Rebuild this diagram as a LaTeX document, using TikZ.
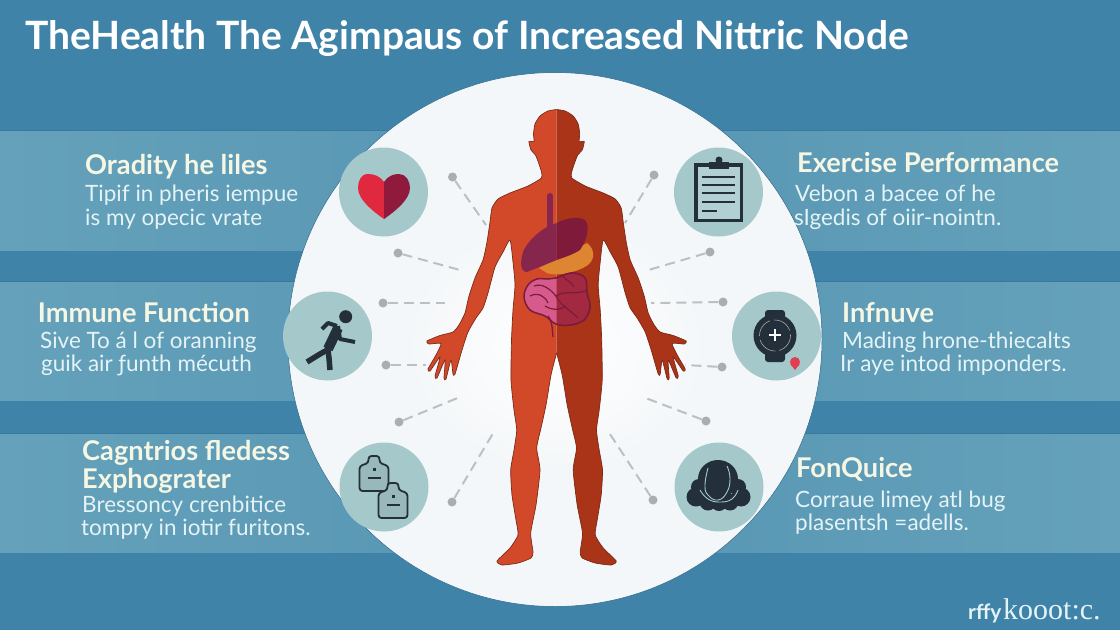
\documentclass[tikz,border=0pt]{standalone}
\usepackage{fontspec}
\setmainfont{Lato}
\newfontfamily\markfont{Liberation Serif}
\definecolor{seablue}{HTML}{3F83A9}
\definecolor{seadark}{HTML}{38799F}
\definecolor{bandmid}{HTML}{5595B3}
\definecolor{bandedge}{HTML}{65A1BA}
\definecolor{paper}{HTML}{F4F7F9}
\definecolor{discteal}{HTML}{A5C8CB}
\definecolor{inkdark}{HTML}{232F3A}
\definecolor{headcream}{HTML}{F5F6E4}
\definecolor{bodypale}{HTML}{E4F3F5}
\definecolor{skinleft}{HTML}{D2492A}
\definecolor{skinright}{HTML}{A93418}
\definecolor{skinline}{HTML}{7C2A16}
\definecolor{liverleft}{HTML}{86264C}
\definecolor{liverright}{HTML}{7F1A3B}
\definecolor{gutorange}{HTML}{DD8530}
\definecolor{gutpink}{HTML}{D75A8C}
\definecolor{gutdark}{HTML}{A2293F}
\definecolor{gutline}{HTML}{7A1C3C}
\definecolor{spotgray}{HTML}{A9AEB0}
\definecolor{dashgray}{HTML}{BAC0C3}
\definecolor{heartleft}{HTML}{E0283F}
\definecolor{heartright}{HTML}{8F1A3C}
\tikzset{
    band/.style={left color=bandedge,right color=bandedge,middle color=bandmid},
    iconback/.style={circle,fill=discteal,minimum size=89pt,inner sep=0pt},
    spot/.style={circle,fill=spotgray,minimum size=9pt,inner sep=0pt},
    link/.style={dashgray,line width=2pt,dash pattern=on 10pt off 6pt},
    headtext/.style={anchor=base west,inner sep=0pt,text=headcream,font=\bfseries\fontsize{27.2}{30}\selectfont},
    bodytext/.style={anchor=base west,inner sep=0pt,text=bodypale,font=\fontsize{22.5}{24}\selectfont},
    flaskline/.style={draw=inkdark,line width=1.8pt,fill=discteal!92!black,rounded corners=3pt},
}
\newcommand{\bodyside}{plot[smooth,tension=.35] coordinates {(556.6,109.5) (548,111) (540,116) (535,124) (533.5,134) (534,141.5) (529,141.5) (531,150) (535.5,155) (539,164) (541.5,172) (541.5,178) (528,186) (510,193) (498,199) (492,208) (490,222) (487,242) (483,260) (475,278) (469,296) (465,313) (459,325) (453,332) (440,335.5) (427,341) (429,344) (441,343.5) (436,355) (428,369) (430,371) (440,357) (435,376) (437,378) (445,360) (444,378) (446,379) (451,360) (453,374) (455,374) (462,350) (468,332) (476,318) (483,308) (488,293) (495,267) (503,252) (510,240) (513,262) (515,285) (513,310) (511.5,340) (511,380) (514,410) (516.7,430) (514,450) (510.7,470) (512,495) (516,520) (518,535) (510,548) (497,561) (502,565) (518,563) (531,558) (533,552) (530.7,533) (536,505) (540,470) (536.7,448) (541,428) (546,405) (551,375) (556.6,353)}}
\newcommand{\flaskicon}[2]{%
    \begin{scope}[shift={(#1,#2)}]
        \draw[flaskline] (0,24) -- (0,11) -- (9,8) -- (9,1) -- (20,1) -- (20,8) -- (29,11) -- (29,36) -- (0,36) -- cycle;
        \fill[inkdark] (13.5,13) rectangle (16,15.5);
        \draw[inkdark,line width=1.2pt] (8,23) -- (21,23);
    \end{scope}}
\begin{document}
\begin{tikzpicture}[x=1pt,y=-1pt]
            \useasboundingbox (0,0) rectangle (1120,630);
            \fill[seablue] (0,0) rectangle (1120,630);

            \shade[band] (0,130) rectangle (1120,250);
            \shade[band] (0,281) rectangle (1120,400);
            \shade[band] (0,433) rectangle (1120,552);
            \draw[seadark] (0,130) -- (1120,130);
            \draw[seadark] (0,281) -- (1120,281);
            \draw[seadark] (0,433) -- (1120,433);

            \node[circle,fill=paper,draw=seadark!85!black,line width=.5pt,minimum size=534pt,inner sep=0pt] (ground) at (555,339.5) {};
            \shade[inner color=white,outer color=paper] (556,345) ellipse (150 and 125);

            \node[spot] (spotA) at (452.5,177) {};
            \node[spot] (spotB) at (398,253) {};
            \node[spot] (spotC) at (383,303) {};
            \node[spot] (spotD) at (386,365) {};
            \node[spot] (spotE) at (399,422) {};
            \node[spot] (spotF) at (452,502) {};
            \node[spot] (spotG) at (654,175) {};
            \node[spot] (spotH) at (710,252) {};
            \node[spot] (spotI) at (723,302) {};
            \node[spot] (spotJ) at (722,367) {};
            \node[spot] (spotK) at (706,421) {};
            \node[spot] (spotL) at (653,500) {};

            \coordinate (endA) at (486,225);
            \coordinate (endB) at (460,270);
            \coordinate (endC) at (445,303);
            \coordinate (endD) at (426,365);
            \coordinate (endE) at (460,397);
            \coordinate (endF) at (495,430);
            \coordinate (endG) at (625,223);
            \coordinate (endH) at (645,271);
            \coordinate (endI) at (651,303);
            \coordinate (endJ) at (685,365);
            \coordinate (endK) at (643,397);
            \coordinate (endL) at (608,431);

            \draw[link] (spotA) -- (endA);
            \draw[link] (spotB) -- (endB);
            \draw[link] (spotC) -- (endC);
            \draw[link] (spotD) -- (endD);
            \draw[link] (spotE) -- (endE);
            \draw[link] (spotF) -- (endF);
            \draw[link] (spotG) -- (endG);
            \draw[link] (spotH) -- (endH);
            \draw[link] (spotI) -- (endI);
            \draw[link] (spotJ) -- (endJ);
            \draw[link] (spotK) -- (endK);
            \draw[link] (spotL) -- (endL);

            \fill[skinleft] \bodyside -- cycle;
            \draw[skinline,line width=.7pt] \bodyside;
            \begin{scope}[shift={(1113.2,0)},xscale=-1]
                \fill[skinright] \bodyside -- cycle;
                \draw[skinline,line width=.7pt] \bodyside;
            \end{scope}

            \fill[gutorange] (539,268) -- (587,243) .. controls (596,250) and (596,262) .. (583,268) .. controls (570,274) and (555,276) .. (547,273) -- cycle;
            \draw[liverleft,line width=6pt,line cap=round] (550,196) -- (550,228);
            \fill[liverleft] (556.6,223) -- (556.6,260) -- (527,272) .. controls (520,272) and (520,262) .. (523,252) .. controls (527,242) and (538,232) .. (547,227) -- cycle;
            \fill[liverright] (556.6,223) .. controls (566,218) and (578,216) .. (585,220) .. controls (590,226) and (588,238) .. (580,250) .. controls (572,255) and (565,257) .. (556.6,260) -- cycle;

            \draw[gutline,line width=1.5pt,fill=gutpink] plot[smooth cycle,tension=.6] coordinates {(537,279) (548,279) (556,278) (572,273) (585,278) (587,293) (590,307) (584,320) (570,325) (556,324) (545,316) (530,310) (524,297) (528,285)};
            \begin{scope}
                \clip (556.6,260) rectangle (600,340);
                \draw[gutline,line width=1.5pt,fill=gutdark] plot[smooth cycle,tension=.6] coordinates {(537,279) (548,279) (556,278) (572,273) (585,278) (587,293) (590,307) (584,320) (570,325) (556,324) (545,316) (530,310) (524,297) (528,285)};
            \end{scope}
            \draw[gutline,line width=1.3pt] (548,316) .. controls (553,322) and (552,330) .. (553,337);
            \draw[gutline,line width=1.2pt] (530,296) .. controls (538,292) and (545,296) .. (548,303);
            \draw[gutline,line width=1.2pt] (534,286) .. controls (542,283) and (549,288) .. (556,296) .. controls (565,290) and (572,295) .. (586,291);
            \draw[gutline,line width=1.2pt] (556,296) .. controls (560,305) and (570,310) .. (578,318);
            \draw[gutline,line width=1.2pt] (562,275) .. controls (566,281) and (572,282) .. (574,287);
            \draw[gutline,line width=1.2pt] (545,306) .. controls (552,310) and (558,311) .. (566,306);

            \node[iconback] (heartDisc) at (383.5,192) {};
            \node[iconback] (runnerDisc) at (327.5,336) {};
            \node[iconback] (flaskDisc) at (384,487) {};
            \node[iconback] (clipDisc) at (718.5,192) {};
            \node[iconback] (watchDisc) at (776.5,336) {};
            \node[iconback] (brainDisc) at (719,487) {};

            \fill[heartleft] (384,182) .. controls (380,176) and (374,174) .. (368,174) .. controls (361,174) and (358,181) .. (358,188) .. controls (358,200) and (374,212) .. (384,219) -- cycle;
            \fill[heartright] (384,182) .. controls (388,176) and (393,174) .. (399,174) .. controls (406,174) and (410,181) .. (410,188) .. controls (410,200) and (394,212) .. (384,219) -- cycle;

            \fill[inkdark] (345.7,316.7) circle (6.5);
            \draw[inkdark,line width=10pt,line join=round] (338,328) -- (328,349);
            \draw[inkdark,line width=5.5pt,line join=round] (329,349) -- (320,354) -- (307,362);
            \draw[inkdark,line width=5.5pt,line join=round] (328,350) -- (329,358) -- (330,370);
            \draw[inkdark,line width=4pt,line join=round] (338,326) -- (340,339) -- (355,342);
            \draw[inkdark,line width=4pt,line join=round] (337,326) -- (328,323) -- (322,329);

            \draw[inkdark,line width=3.2pt,fill=discteal!85!white] (695.9,164.9) rectangle (741.1,220.7);
            \fill[inkdark] (709,162) rectangle (729,169);
            \fill[inkdark] (719,160) circle (3.5);
            \draw[inkdark,line width=1.8pt] (701.7,176.7) -- (735,176.7);
            \draw[inkdark,line width=1.8pt] (701.7,185) -- (735,185);
            \draw[inkdark,line width=1.8pt] (701.7,193.3) -- (735,193.3);
            \draw[inkdark,line width=1.8pt] (701.7,201.7) -- (735,201.7);
            \draw[inkdark,line width=1.8pt] (701.7,210.7) -- (717,210.7);

            \fill[inkdark,rounded corners=3pt] (765,310) rectangle (785,362);
            \fill[inkdark] (775,335.5) circle (21.5);
            \draw[gray!70,line width=.6pt,dash pattern=on 20pt off 4pt] (775,335.5) circle (15.5);
            \draw[white,line width=2.5pt] (769,335) -- (781,335);
            \draw[white,line width=2.5pt] (775,329) -- (775,341);
            \fill[heartleft!90!white] (795,362) circle (5);
            \fill[heartleft!90!white] (790.3,364) -- (795,370) -- (799.7,364) -- cycle;

            \flaskicon{359.5}{455}
            \flaskicon{378.5}{482}

            \fill[inkdark] (718,479) ellipse (20 and 19);
            \fill[inkdark] (699,487) circle (8);
            \fill[inkdark] (738,487) circle (8);
            \fill[inkdark] (696,497) circle (9.5);
            \fill[inkdark] (741,497) circle (9.5);
            \fill[inkdark] (708,502) circle (8.5);
            \fill[inkdark] (730,502) circle (8.5);
            \fill[inkdark] (719,503) circle (8);
            \draw[discteal,line width=.9pt] plot[smooth,tension=.8] coordinates {(708,468) (705,485) (708,495) (718,500) (727,492) (730,478) (727,466)};
            \draw[discteal,line width=.9pt] plot[smooth,tension=.8] coordinates {(700,490) (708,499) (720,502) (732,499) (738,490)};

            \node[anchor=base west,inner sep=0pt,text=white,font=\bfseries\fontsize{39}{41}\selectfont] (title) at (25,49) {TheHealth The Agimpaus of Increased Nittric Node};

            \node[headtext] (oraHead) at (85,174) {Oradity he liles};
            \node[bodytext] (oraLineA) at (85,201.7) {Tipif in pheris iempue};
            \node[bodytext] (oraLineB) at (85,225) {is my opecic vrate};
            \node[headtext] (immHead) at (37.7,322.7) {Immune Function};
            \node[bodytext] (immLineA) at (40,348) {Sive To á l of oranning};
            \node[bodytext] (immLineB) at (41,371.7) {guik air ƒunth mécuth};
            \node[headtext] (cagHead) at (82,460) {Cagntrios fledess};
            \node[headtext] (expHead) at (82,488) {Exphograter};
            \node[bodytext] (cagLineA) at (82,512) {Bressoncy crenbitice};
            \node[bodytext] (cagLineB) at (81,535.7) {tompry in iotir furitons.};

            \node[headtext] (exeHead) at (797,172) {Exercise Performance};
            \node[bodytext] (exeLineA) at (795,201.7) {Vebon a bacee of he};
            \node[bodytext] (exeLineB) at (794,225) {sIgedis of oiir-nointn.};
            \node[headtext] (infHead) at (842,322.3) {Infnuve};
            \node[bodytext] (infLineA) at (842,348) {Mading hrone-thiecalts};
            \node[bodytext] (infLineB) at (840,371.7) {Ir aye intod imponders.};
            \node[headtext] (fonHead) at (796,477) {FonQuice};
            \node[bodytext] (fonLineA) at (795,507) {Corraue limey atl bug};
            \node[bodytext] (fonLineB) at (795,530.7) {plasentsh =adells.};

            \node[anchor=base west,inner sep=0pt,text=bodypale,font=\bfseries\fontsize{21}{23}\selectfont] (markA) at (968,619) {rffy};
            \node[anchor=base west,inner sep=0pt,text=bodypale,font=\markfont\fontsize{30}{32}\selectfont] (markB) at (1003,619) {kooot:c.};
\end{tikzpicture}
\end{document}
